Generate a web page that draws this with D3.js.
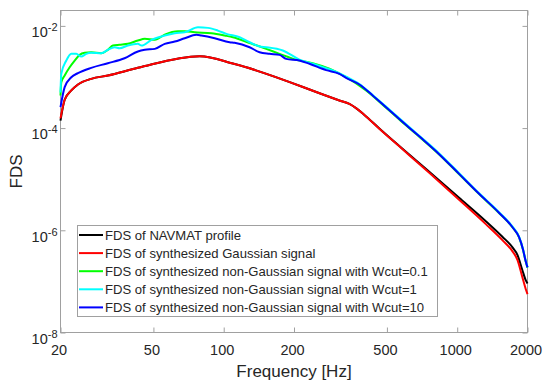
<!DOCTYPE html>
<html>
<head>
<meta charset="utf-8">
<script src="https://cdn.jsdelivr.net/npm/d3@7"></script>
<style>
body { margin: 0; background: #fff; }
svg { font-family: "Liberation Sans", Arial, sans-serif; }
</style>
</head>
<body>
<svg id="chart" width="546" height="383"></svg>
<script>
'use strict';
// values: frequency [Hz] and FDS
var freqNavmat = [20, 20.84, 22.25, 23.76, 27.08, 31.9, 42.9, 78.9, 111.4, 313, 345.3, 370, 400.4, 464, 564.9, 759, 1019, 1326, 1561, 1722, 1813, 1899, 1965, 2000];
var fdsNavmat = [1.4e-4, 3.59e-4, 5.45e-4, 7.15e-4, 9.2e-4, 1.07e-3, 1.51e-3, 2.55e-3, 1.79e-3, 3.47e-4, 2.97e-4, 2.43e-4, 1.81e-4, 9.8e-5, 4.45e-5, 1.40e-5, 4.34e-6, 1.51e-6, 7.5e-7, 4.68e-7, 3.27e-7, 1.69e-7, 1.06e-7, 9.1e-8];

var freqGauss = [20, 20.84, 22.25, 23.76, 27.08, 31.9, 42.9, 78.9, 111.4, 313, 345.3, 370, 400.4, 464, 564.9, 759, 1019, 1326, 1561, 1722, 1813, 1899, 1965, 2000];
var fdsGauss = [1.55e-4, 3.59e-4, 5.45e-4, 7.15e-4, 9.2e-4, 1.07e-3, 1.51e-3, 2.55e-3, 1.79e-3, 3.47e-4, 2.97e-4, 2.43e-4, 1.81e-4, 9.73e-5, 4.39e-5, 1.33e-5, 3.96e-6, 1.32e-6, 6.41e-7, 3.91e-7, 2.61e-7, 1.23e-7, 7.1e-8, 5.65e-8];

var freqW01 = [20, 20.16, 20.84, 21.89, 23.0, 24.16, 25.38, 27.08, 29.88, 31.9, 33.53, 35.82, 38.86, 42.9, 45.93, 50.7, 55.9, 63.7, 68.1, 75.1, 88.6, 101, 109.6, 129.1, 152.1, 173.4, 204.3, 240.4, 283.6, 334.2, 407, 495.6, 564.9, 687.6, 837, 1019, 1241, 1510, 1722, 1840, 1912, 1965, 2000];
var fdsW01 = [4.35e-4, 7.91e-4, 1.07e-3, 1.55e-3, 2.10e-3, 2.71e-3, 2.97e-3, 3.05e-3, 2.92e-3, 3.40e-3, 4.12e-3, 4.26e-3, 4.45e-3, 5.16e-3, 5.57e-3, 5.33e-3, 6.76e-3, 7.85e-3, 7.85e-3, 7.50e-3, 7.17e-3, 6.47e-3, 5.99e-3, 4.62e-3, 3.55e-3, 2.84e-3, 2.17e-3, 1.86e-3, 1.45e-3, 9.9e-4, 5.45e-4, 2.5e-4, 1.47e-4, 6.8e-5, 3.05e-5, 1.25e-5, 5.1e-6, 2.18e-6, 1.15e-6, 7.25e-7, 4.2e-7, 2.45e-7, 1.86e-7];

var freqW1 = [20, 20.16, 21.18, 22.25, 23.37, 24.54, 25.78, 27.08, 29.88, 31.9, 34.09, 35.82, 38.86, 42.9, 44.46, 49.07, 55.9, 61.7, 68.1, 77.6, 85.6, 94.5, 102.7, 117, 129.1, 142.4, 152.1, 179.1, 211, 240.4, 293, 334.2, 381, 434.4, 495.6, 564.9, 687.6, 837, 1019, 1241, 1510, 1722, 1840, 1912, 1965, 2000];
var fdsW1 = [4.98e-4, 1.155e-3, 2.10e-3, 2.84e-3, 2.84e-3, 2.51e-3, 2.84e-3, 2.97e-3, 2.92e-3, 3.40e-3, 3.82e-3, 3.65e-3, 4.12e-3, 4.45e-3, 4.12e-3, 5.33e-3, 6.47e-3, 7.17e-3, 7.50e-3, 9.39e-3, 9.14e-3, 8.09e-3, 6.98e-3, 5.99e-3, 4.79e-3, 3.94e-3, 3.82e-3, 3.30e-3, 2.19e-3, 1.81e-3, 1.34e-3, 1.02e-3, 7.3e-4, 4.45e-4, 2.63e-4, 1.56e-4, 7.1e-5, 3.2e-5, 1.31e-5, 5.3e-6, 2.26e-6, 1.19e-6, 7.5e-7, 4.35e-7, 2.55e-7, 1.9e-7];

var freqW10 = [20, 20.84, 22.25, 23.76, 27.08, 31.9, 37.62, 42.9, 45.93, 50.7, 55.9, 61.7, 68.1, 76.4, 80.2, 91.5, 106, 111.4, 129.1, 142.4, 157.1, 173.4, 185.1, 211, 232.8, 274.6, 313, 334.2, 381, 434.4, 495.6, 564.9, 687.6, 837, 1019, 1241, 1510, 1722, 1840, 1912, 1965, 2000];
var fdsW10 = [2.57e-4, 6.32e-4, 9.9e-4, 1.19e-3, 1.51e-3, 1.86e-3, 2.33e-3, 3.15e-3, 3.40e-3, 3.55e-3, 4.45e-3, 4.93e-3, 5.73e-3, 6.67e-3, 6.47e-3, 5.73e-3, 4.79e-3, 4.66e-3, 3.82e-3, 3.05e-3, 2.84e-3, 2.71e-3, 2.26e-3, 2.10e-3, 1.81e-3, 1.36e-3, 1.155e-3, 9.64e-4, 7.14e-4, 4.36e-4, 2.57e-4, 1.51e-4, 6.89e-5, 3.09e-5, 1.27e-5, 5.19e-6, 2.21e-6, 1.16e-6, 7.32e-7, 4.27e-7, 2.49e-7, 1.88e-7];

var seriesNames = [
    'FDS of NAVMAT profile',
    'FDS of synthesized Gaussian signal',
    'FDS of synthesized non-Gaussian signal with Wcut=0.1',
    'FDS of synthesized non-Gaussian signal with Wcut=1',
    'FDS of synthesized non-Gaussian signal with Wcut=10'
];
var seriesColors = ['#000000', '#ff0000', '#00ff00', '#00ffff', '#0000ff'];
var seriesFreq = [freqNavmat, freqGauss, freqW01, freqW1, freqW10];
var seriesFds = [fdsNavmat, fdsGauss, fdsW01, fdsW1, fdsW10];

var xTicks = [20, 50, 100, 200, 500, 1000, 2000];
var yTicks = [1e-8, 1e-6, 1e-4, 1e-2];
var yTickExp = ['-8', '-6', '-4', '-2'];

var margin = {left: 60.5, right: 18.5, top: 10.5, bottom: 50.5},
    width = 546 - margin.left - margin.right,
    height = 383 - margin.top - margin.bottom,
    axisColor = '#a0a0a0',
    textColor = '#262626';

var svg = d3.select('#chart');
var g = svg.append('g')
    .attr('transform', 'translate(' + margin.left + ',' + margin.top + ')');

var x = d3.scaleLog().domain([20, 2000]).range([0, width]);
var y = d3.scaleLog().domain([1e-8, 2e-2]).range([height, 0]);

// axes, ticks pointing inward
function styleAxis(sel) {
    sel.select('.domain').remove();
    sel.selectAll('.tick line').attr('stroke', axisColor);
    sel.selectAll('.tick text')
        .attr('fill', textColor)
        .attr('dx', -2)
        .style('font-size', '14.5px');
}
g.append('g')
    .attr('transform', 'translate(0,' + height + ')')
    .call(d3.axisBottom(x).tickValues(xTicks).tickFormat(d3.format('d')).tickSize(-5).tickPadding(12))
    .call(styleAxis);
g.append('g')
    .call(d3.axisTop(x).tickValues(xTicks).tickFormat('').tickSize(-5))
    .call(styleAxis);
g.append('g')
    .call(d3.axisLeft(y).tickValues(yTicks).tickFormat('').tickSize(-5))
    .call(styleAxis);
g.append('g')
    .attr('transform', 'translate(' + width + ',0)')
    .call(d3.axisRight(y).tickValues(yTicks).tickFormat('').tickSize(-5))
    .call(styleAxis);

// 10^n labels
var yLab = g.append('g').selectAll('text')
    .data(yTicks)
    .enter().append('text')
    .attr('x', -3)
    .attr('y', function(d) { return y(d) + 11.3; })
    .attr('text-anchor', 'end')
    .attr('fill', textColor)
    .style('font-size', '14.5px');
yLab.append('tspan').text('10');
yLab.append('tspan')
    .attr('dy', -6)
    .style('font-size', '11px')
    .text(function(d, i) { return yTickExp[i]; });

g.append('rect')
    .attr('width', width)
    .attr('height', height)
    .attr('fill', 'none')
    .attr('stroke', axisColor)
    .attr('stroke-width', 1);

// curves
var line = d3.line()
    .x(function(d) { return x(d[0]); })
    .y(function(d) { return y(d[1]); })
    .curve(d3.curveMonotoneX);

for (var i = 0; i < seriesNames.length; i++) {
    var pts = seriesFreq[i].map(function(f, j) { return [f, seriesFds[i][j]]; });
    g.append('path')
        .attr('d', line(pts))
        .attr('fill', 'none')
        .attr('stroke', seriesColors[i])
        .attr('stroke-width', 2)
        .attr('stroke-linejoin', 'round');
}

// legend
var leg = svg.append('g').attr('transform', 'translate(77,225)');
leg.append('rect')
    .attr('x', 0.5)
    .attr('y', 0.5)
    .attr('width', 360)
    .attr('height', 91)
    .attr('fill', '#fff')
    .attr('stroke', axisColor);
seriesNames.forEach(function(name, i) {
    var ly = 10 + i * 18.1;
    leg.append('line')
        .attr('x1', 2).attr('x2', 26)
        .attr('y1', ly).attr('y2', ly)
        .attr('stroke', seriesColors[i])
        .attr('stroke-width', 2);
    leg.append('text')
        .attr('x', 28)
        .attr('y', ly + 5)
        .attr('fill', textColor)
        .style('font-size', '13.1px')
        .text(name);
});

// axis titles
svg.append('text')
    .attr('x', margin.left + width / 2)
    .attr('y', 377)
    .attr('text-anchor', 'middle')
    .attr('fill', textColor)
    .style('font-size', '17px')
    .text('Frequency [Hz]');
svg.append('text')
    .attr('transform', 'translate(21.5,' + (margin.top + height / 2) + ') rotate(-90)')
    .attr('text-anchor', 'middle')
    .attr('fill', textColor)
    .style('font-size', '17px')
    .text('FDS');
</script>
</body>
</html>
